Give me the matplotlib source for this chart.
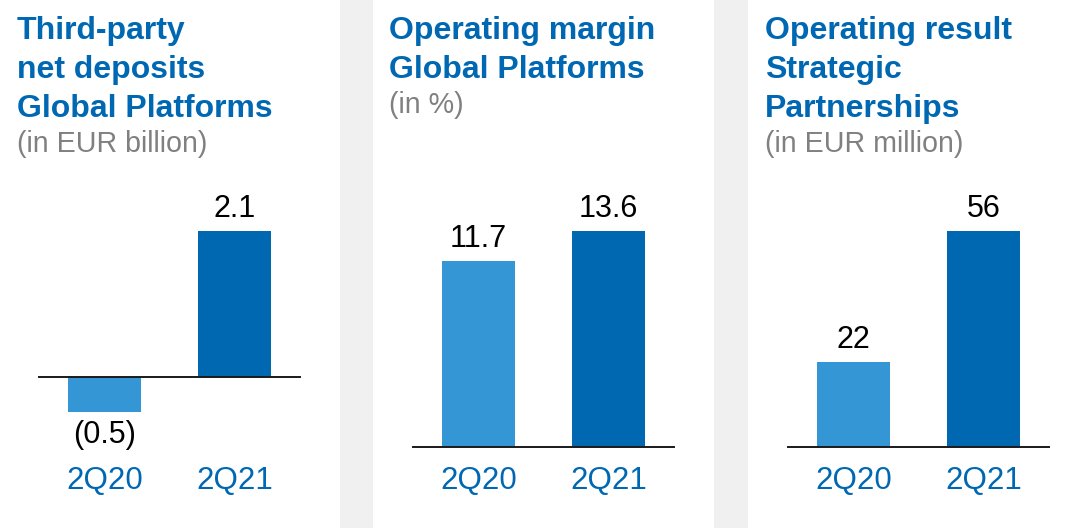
import matplotlib
matplotlib.use('Agg')
import matplotlib.pyplot as plt
import matplotlib.transforms as mtransforms
from matplotlib.patches import Rectangle

plt.rcParams['font.family'] = ['Liberation Sans', 'DejaVu Sans']

# data
quarters = ['2Q20', '2Q21']
deposits = [-0.5, 2.1]
margin = [11.7, 13.6]
partnerships = [22, 56]
deposit_labels = ['(0.5)', '2.1']
margin_labels = ['11.7', '13.6']
partnership_labels = ['22', '56']

titles = [
    ['Third-party', 'net deposits', 'Global Platforms'],
    ['Operating margin', 'Global Platforms'],
    ['Operating result', 'Strategic', 'Partnerships'],
]
subtitles = ['(in EUR billion)', '(in %)', '(in EUR million)']

light_blue = '#3596d5'
dark_blue = '#0067b1'
title_blue = '#0068b3'
W, H = 1089, 528

fig = plt.figure(figsize=(W / 100, H / 100), dpi=100)

# grey separator strips
for x0, x1 in [(340, 373), (714, 748)]:
    fig.patches.append(Rectangle((x0 / W, 0), (x1 - x0) / W, 1,
                                 transform=fig.transFigure,
                                 facecolor='#f0f0f0', edgecolor='none', zorder=0))

# axes: left pixel, values, labels, ylim
panels = [
    (39, deposits, deposit_labels, (-70 / (146 / 2.1), 2.1)),
    (413, margin, margin_labels, (0, 13.6)),
    (788, partnerships, partnership_labels, (0, 56)),
]
title_x = [17, 389, 765]

for i, (left, vals, labels, ylim) in enumerate(panels):
    ax = fig.add_axes([left / W, 1 - 447 / H, 261 / W, 216 / H])
    ax.set_xlim(-0.504, 1.504)
    ax.set_ylim(*ylim)
    ax.bar([0, 1], vals, width=0.56, color=[light_blue, dark_blue], zorder=2)
    ax.axhline(0, color='#1a1a1a', lw=1.4, zorder=3, clip_on=False)
    ax.axis('off')
    for x, v, lab in zip([0, 1], vals, labels):
        off = 16 if v >= 0 else -17
        ax.annotate(lab, (x, v), xytext=(0, off), textcoords='offset points',
                    ha='center', va='center', fontsize=22, color='black',
                    annotation_clip=False)
    trans = mtransforms.blended_transform_factory(ax.transData, fig.transFigure)
    for x, q in enumerate(quarters):
        ax.text(x, 1 - 481 / H, q, transform=trans, ha='center', va='center',
                fontsize=22.5, color=title_blue)

    # titles
    for j, line in enumerate(titles[i]):
        fig.text(title_x[i] / W, 1 - (39 + 39 * j) / H, line, ha='left',
                 va='baseline', fontsize=23, fontweight='bold', color=title_blue)
    fig.text(title_x[i] / W, 1 - (39 + 39 * len(titles[i]) - 4) / H, subtitles[i],
             ha='left', va='baseline', fontsize=20.6, color='#808080')

plt.savefig('out.png', dpi=100)
